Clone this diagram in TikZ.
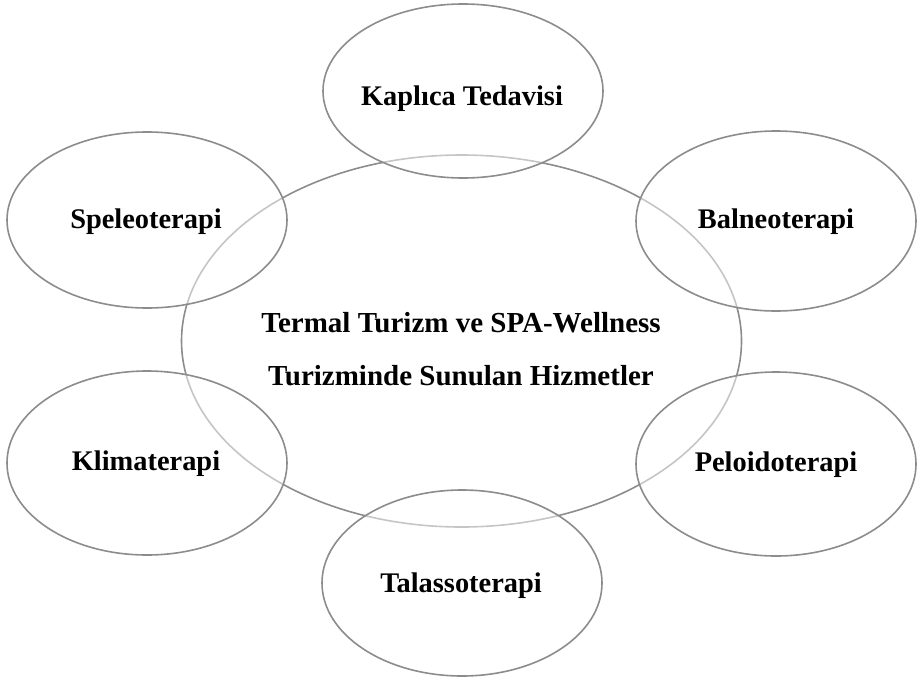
\documentclass[tikz,border=0pt]{standalone}
\usepackage{fontspec}
\setmainfont{Liberation Serif}
\usetikzlibrary{shapes.geometric}
\definecolor{ringgray}{RGB}{140,140,140}
\tikzset{
  bigring/.style={ellipse, draw=ringgray, line width=1.6pt, minimum width=560pt, minimum height=372pt, inner sep=0pt},
  smallring/.style={ellipse, draw=ringgray, line width=1.6pt, fill=white, fill opacity=0.5, draw opacity=1, minimum width=280pt, minimum height=#1, inner sep=0pt},
  lbl/.style={font=\fontsize{28.4}{53}\selectfont\bfseries, anchor=base, inner sep=0pt, text=black},
  clbl/.style={font=\fontsize{29}{53}\selectfont\bfseries, anchor=base, inner sep=0pt, text=black},
}
\begin{document}
\begin{tikzpicture}[x=1pt,y=-1pt]
\useasboundingbox (0,0) rectangle (920,680);
\node[bigring] (center) at (461.5,341) {};
\node[smallring=174pt] (kap) at (463,91) {};
\node[smallring=176pt] (spe) at (147,220) {};
\node[smallring=180pt] (bal) at (776,221) {};
\node[smallring=184pt] (kli) at (147,463) {};
\node[smallring=184pt] (pel) at (776,464) {};
\node[smallring=186pt] (tal) at (462,583) {};
\node[lbl] (tkap) at (462,105) {Kaplıca Tedavisi};
\node[lbl] (tspe) at (146,228) {Speleoterapi};
\node[lbl] (tbal) at (776,228) {Balneoterapi};
\node[lbl] (tkli) at (146,470) {Klimaterapi};
\node[lbl] (tpel) at (776,471) {Peloidoterapi};
\node[lbl] (ttal) at (461,592) {Talassoterapi};
\node[clbl] (tc1) at (461,332) {Termal Turizm ve SPA-Wellness};
\node[clbl] (tc2) at (461,385) {Turizminde Sunulan Hizmetler};
\end{tikzpicture}
\end{document}
